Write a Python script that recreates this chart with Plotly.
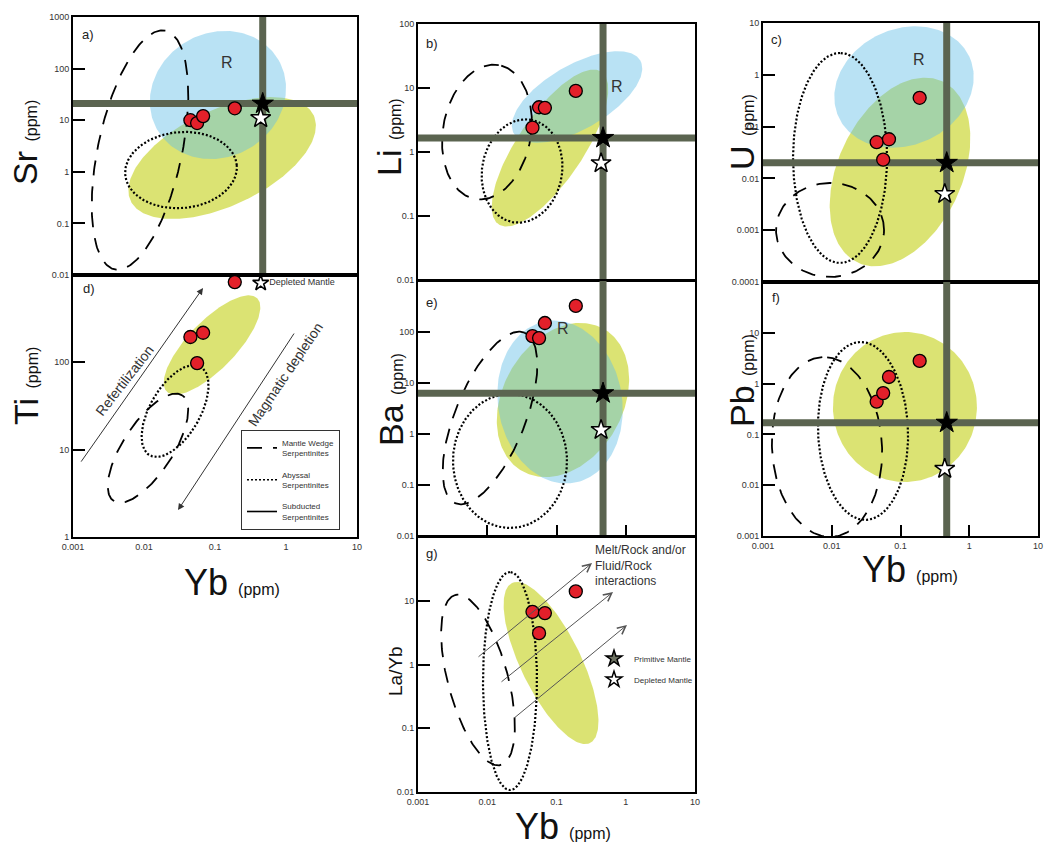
import numpy as np
import plotly.graph_objects as go

W, H = 1045, 847
FONT = "Liberation Sans"

# ---------------- data ----------------
YB = [0.045, 0.056, 0.068, 0.19]          # sample Yb (ppm)
SR = [10, 8.8, 12, 17]
TI = [195, 98, 218, 830]
LI = [2.4, 5.0, 4.9, 9.0]
BA = [83, 76, 150, 325]
LA_YB = [6.7, 3.1, 6.4, 14]
U = [0.050, 0.023, 0.057, 0.36]
PB = [0.44, 0.65, 1.35, 2.8]

PM_YB = 0.47                                # primitive mantle
PM = {"Sr": 21, "Li": 1.66, "Ba": 6.3, "U": 0.020, "Pb": 0.17}
DM_YB = 0.44                                # depleted mantle
DM = {"Sr": 11, "Li": 0.67, "Ti": 810, "Ba": 1.2, "U": 0.005, "Pb": 0.021}

X_TICKS = [0.001, 0.01, 0.1, 1, 10]
X_TEXT = ["0.001", "0.01", "0.1", "1", "10"]

# compositional fields: (kind, centre Yb, centre value, semi-axis a, semi-axis b (px), angle deg)
FIELDS = {
    "a": [("yellow", 0.126, 1.85, 101, 48, 25), ("blue", 0.110, 30.8, 70, 62, 30),
          ("dot", 0.0332, 1.08, 56, 38, 5), ("dash", 0.00879, 2.64, 122, 42, 78)],
    "d": [("yellow", 0.0908, 158, 65, 24, 46),
          ("dot", 0.0274, 27.7, 51, 25, 60), ("dash", 0.01138, 10.4, 63, 25, 57)],
    "b": [("yellow", 0.0805, 1.155, 92, 33, 56), ("blue", 0.198, 7.23, 73, 32, 30),
          ("dot", 0.0318, 0.505, 52, 40, 80), ("dash", 0.0099, 2.05, 68, 44, 80)],
    "e": [("yellow", 0.124, 4.64, 82, 60, 60), ("blue", 0.1125, 4.24, 82, 62, 100),
          ("dot", 0.0213, 0.296, 67, 57, 90), ("dash", 0.01096, 2.06, 92, 35, 68)],
    "g": [("yellow", 0.0834, 1.056, 89, 30, 116),
          ("dot", 0.0213, 0.551, 109, 27, 90), ("dash", 0.00735, 0.571, 88, 30, 105)],
    "c": [("yellow", 0.0984, 0.0133, 100, 62, 65), ("blue", 0.1125, 0.581, 72, 58, 25),
          ("dot", 0.0132, 0.0248, 105, 47, 90), ("dash", 0.00944, 0.00101, 54, 47, 0)],
    "f": [("yellow", 0.116, 0.346, 75, 72, 90),
          ("dot", 0.0285, 0.117, 89, 45, 92), ("dash", 0.00853, 0.0565, 90, 55, 93)],
}

# panel layout: id -> axis index, x px span, y px span, y log range, y tick values
PANELS = {
    "a": dict(i=1, xp=(73, 357), yp=(17, 275), yr=(-2, 3), yt=[0.01, 0.1, 1, 10, 100, 1000],
              yv=SR, el="Sr", xlab=False),
    "d": dict(i=2, xp=(73, 357), yp=(275, 537), yr=(0, 3), yt=[1, 10, 100],
              yv=TI, el="Ti", xlab=True),
    "b": dict(i=3, xp=(418, 695), yp=(24, 280), yr=(-2, 2), yt=[0.01, 0.1, 1, 10, 100],
              yv=LI, el="Li", xlab=False),
    "e": dict(i=4, xp=(418, 695), yp=(281, 536), yr=(-2, 3), yt=[0.01, 0.1, 1, 10, 100],
              yv=BA, el="Ba", xlab=False, xin=True),
    "g": dict(i=5, xp=(418, 695), yp=(537, 792), yr=(-2, 2), yt=[0.01, 0.1, 1, 10],
              yv=LA_YB, el="LaYb", xlab=True),
    "c": dict(i=6, xp=(763, 1038), yp=(23, 282), yr=(-4, 1), yt=[0.0001, 0.001, 0.01, 0.1, 1, 10],
              yv=U, el="U", xlab=False),
    "f": dict(i=7, xp=(763, 1038), yp=(282, 536), yr=(-3, 2), yt=[0.001, 0.01, 0.1, 1, 10],
              yv=PB, el="Pb", xlab=True, xin=True),
}

BLUE = "rgba(100,190,230,0.45)"
YELLOW = "rgba(200,212,40,0.65)"
OLIVE = "#5b6450"
RED = "#e3202a"


def fmt(v):
    s = ("%.4f" % v).rstrip("0").rstrip(".")
    return s


def ellipse(cx, cy, a, b, ang, pxx, pxy):
    t = np.linspace(0, 2 * np.pi, 240)
    th = np.radians(ang)
    X = a * np.cos(t) * np.cos(th) - b * np.sin(t) * np.sin(th)
    Y = a * np.cos(t) * np.sin(th) + b * np.sin(t) * np.cos(th)
    return 10 ** (np.log10(cx) + X / pxx), 10 ** (np.log10(cy) + Y / pxy)


fig = go.Figure()
layout = {}

for key, p in PANELS.items():
    i = p["i"]
    xa = "x" if i == 1 else f"x{i}"
    ya = "y" if i == 1 else f"y{i}"
    xd = [p["xp"][0] / W, p["xp"][1] / W]
    yd = [1 - p["yp"][1] / H, 1 - p["yp"][0] / H]
    pxx = (p["xp"][1] - p["xp"][0]) / 4.0
    pxy = (p["yp"][1] - p["yp"][0]) / (p["yr"][1] - p["yr"][0])

    xin = p.get("xin", False)
    layout["xaxis" if i == 1 else f"xaxis{i}"] = dict(
        domain=xd, anchor=ya, type="log", range=[-3, 1], automargin=False,
        showgrid=False, zeroline=False, showline=True, mirror=True,
        linecolor="black", linewidth=2,
        tickvals=X_TICKS, ticktext=X_TEXT, showticklabels=p["xlab"],
        ticks="inside" if xin else "", ticklen=11, tickwidth=2, tickcolor="black",
        tickfont=dict(size=9, color="#333", family=FONT),
    )
    layout["yaxis" if i == 1 else f"yaxis{i}"] = dict(
        domain=yd, anchor=xa, type="log", range=list(p["yr"]), automargin=False,
        showgrid=False, zeroline=False, showline=True, mirror=True,
        linecolor="black", linewidth=2,
        tickvals=p["yt"], ticktext=[fmt(v) for v in p["yt"]],
        ticks="inside", ticklen=12, tickwidth=2, tickcolor="black",
        tickfont=dict(size=9, color="#333", family=FONT),
    )

    # fields
    for kind, cx, cy, a, b, ang in FIELDS[key]:
        ex, ey = ellipse(cx, cy, a, b, ang, pxx, pxy)
        if kind in ("yellow", "blue"):
            fig.add_trace(go.Scatter(x=ex, y=ey, xaxis=xa, yaxis=ya, mode="lines",
                                     line=dict(width=0), fill="toself",
                                     fillcolor=YELLOW if kind == "yellow" else BLUE,
                                     hoverinfo="skip", showlegend=False))
    for kind, cx, cy, a, b, ang in FIELDS[key]:
        ex, ey = ellipse(cx, cy, a, b, ang, pxx, pxy)
        if kind == "dot":
            fig.add_trace(go.Scatter(x=ex, y=ey, xaxis=xa, yaxis=ya, mode="lines",
                                     line=dict(color="black", width=2.2, dash="2px,2px"),
                                     hoverinfo="skip", showlegend=False))
        elif kind == "dash":
            fig.add_trace(go.Scatter(x=ex, y=ey, xaxis=xa, yaxis=ya, mode="lines",
                                     line=dict(color="black", width=1.8, dash="15px,11px"),
                                     hoverinfo="skip", showlegend=False))

    # primitive mantle reference lines
    el = p["el"]
    if el in PM:
        fig.add_trace(go.Scatter(x=[PM_YB, PM_YB], y=[10 ** p["yr"][0], 10 ** p["yr"][1]],
                                 xaxis=xa, yaxis=ya, mode="lines",
                                 line=dict(color=OLIVE, width=7), hoverinfo="skip", showlegend=False))
        fig.add_trace(go.Scatter(x=[0.001, 10], y=[PM[el], PM[el]],
                                 xaxis=xa, yaxis=ya, mode="lines",
                                 line=dict(color=OLIVE, width=7), hoverinfo="skip", showlegend=False))

    # samples
    fig.add_trace(go.Scatter(x=YB, y=p["yv"], xaxis=xa, yaxis=ya, mode="markers",
                             marker=dict(size=13, color=RED, line=dict(color="black", width=1.3)),
                             showlegend=False))
    if el in PM:
        fig.add_trace(go.Scatter(x=[PM_YB], y=[PM[el]], xaxis=xa, yaxis=ya, mode="markers",
                                 marker=dict(symbol="star", size=16, color="black",
                                             line=dict(color="black", width=1)),
                                 showlegend=False))
    if el in DM:
        if el == "Ti":
            fig.add_trace(go.Scatter(x=[DM_YB], y=[DM[el]], xaxis=xa, yaxis=ya, mode="markers+text",
                                     marker=dict(symbol="star", size=12, color="white",
                                                 line=dict(color="black", width=1.6)),
                                     text=["Depleted Mantle"], textposition="middle right",
                                     textfont=dict(size=9, color="#333", family=FONT),
                                     cliponaxis=False, showlegend=False))
        else:
            fig.add_trace(go.Scatter(x=[DM_YB], y=[DM[el]], xaxis=xa, yaxis=ya, mode="markers",
                                     marker=dict(symbol="star", size=15, color="white",
                                                 line=dict(color="black", width=1.5)),
                                     showlegend=False))

# legend entries (serpentinite fields)
SERP = [("Mantle Wedge<br>Serpentinites", "15px,11px"),
        ("Abyssal<br>Serpentinites", "2px,2px"),
        ("Subducted<br>Serpentinites", "30px,4px")]
for k, (name, dash) in enumerate(SERP):
    fig.add_trace(go.Scatter(x=[None], y=[None], xaxis="x2", yaxis="y2", mode="lines",
                             name=name, legendgroup=f"s{k}",
                             line=dict(color="black", width=1.6, dash=dash),
                             legend="legend"))
fig.add_trace(go.Scatter(x=[None], y=[None], xaxis="x5", yaxis="y5", mode="markers",
                         name="Primitive Mantle", legendgroup="pm",
                         marker=dict(symbol="star", size=12, color="#6d7262",
                                     line=dict(color="black", width=1.5)), legend="legend2"))
fig.add_trace(go.Scatter(x=[None], y=[None], xaxis="x5", yaxis="y5", mode="markers",
                         name="Depleted Mantle", legendgroup="dm",
                         marker=dict(symbol="star", size=12, color="white",
                                     line=dict(color="black", width=1.5)), legend="legend2"))

ann = []
# panel letters
for txt, (px, py) in {"a)": (80, 35), "b)": (424, 43), "c)": (769, 40), "d)": (81, 288),
                      "e)": (424, 302), "f)": (770, 297), "g)": (424, 553)}.items():
    ann.append(dict(text=txt, x=px / W, y=1 - py / H, xref="paper", yref="paper",
                    xanchor="left", yanchor="middle", showarrow=False,
                    font=dict(size=13, color="#222", family=FONT)))

# R labels (log coordinates)
for xr, yr_, lx, ly in [("x", "y", -0.831, 2.109), ("x3", "y3", -0.126, 1.031),
                        ("x6", "y6", -0.731, 0.286), ("x4", "y4", -0.906, 2.059)]:
    ann.append(dict(text="R", x=lx, y=ly, xref=xr, yref=yr_, showarrow=False,
                    font=dict(size=16, color="#333", family=FONT)))

# axis titles
def ytitle(txt, small, px, py, big=34):
    return dict(text=f"{txt} <span style='font-size:16px'>{small}</span>", x=px / W, y=1 - py / H,
                xref="paper", yref="paper", textangle=-90, showarrow=False,
                xanchor="center", yanchor="middle", font=dict(size=big, color="#111", family=FONT))

ann += [ytitle("Sr", "(ppm)", 25, 143), ytitle("Ti", "(ppm)", 26, 386),
        ytitle("Li", "(ppm)", 389, 137), ytitle("Ba", "(ppm)", 391, 400),
        ytitle("U", "(ppm)", 742, 132), ytitle("Pb", "(ppm)", 742, 381)]
ann.append(dict(text="La/Yb", x=395 / W, y=1 - 698 / H, xref="paper", yref="paper", textangle=-90,
                showarrow=False, font=dict(size=19, color="#111", family=FONT)))
for px, py in [(232, 582), (563, 826), (910, 569)]:
    ann.append(dict(text="Yb <span style='font-size:16px'>(ppm)</span>", x=px / W, y=1 - py / H,
                    xref="paper", yref="paper", showarrow=False, xanchor="center", yanchor="middle",
                    font=dict(size=36, color="#111", family=FONT)))

# trend arrows in d (log coordinates: head x,y ; tail ax,ay)
for hx, hy, tx, ty in [(-1.169, 2.851, -2.90, 0.846), (-1.521, 0.308, 0.127, 2.347)]:
    ann.append(dict(x=hx, y=hy, ax=tx, ay=ty, xref="x2", yref="y2", axref="x2", ayref="y2",
                    text="", showarrow=True, arrowhead=2, arrowsize=1.3, arrowwidth=1,
                    arrowcolor="#333"))
ann.append(dict(text="Refertilization", x=-2.268, y=1.797, xref="x2", yref="y2", textangle=-52,
                showarrow=False, font=dict(size=14, color="#333", family=FONT)))
ann.append(dict(text="Magmatic depletion", x=-0.014, y=1.855, xref="x2", yref="y2", textangle=-56,
                showarrow=False, font=dict(size=14, color="#333", family=FONT)))

# interaction arrows in g
for hx, hy, tx, ty in [(-0.487, 1.592, -2.148, 0.102), (-0.184, 1.137, -1.816, -0.290),
                       (0.018, 0.620, -1.628, -0.855)]:
    ann.append(dict(x=hx, y=hy, ax=tx, ay=ty, xref="x5", yref="y5", axref="x5", ayref="y5",
                    text="", showarrow=True, arrowhead=5, arrowsize=1.6, arrowwidth=1,
                    arrowcolor="#555"))
ann.append(dict(text="Melt/Rock and/or<br>Fluid/Rock<br>interactions", x=593 / W, y=1 - 541 / H,
                xref="paper", yref="paper", xanchor="left", yanchor="top", align="left",
                showarrow=False, font=dict(size=12, color="#333", family=FONT)))

fig.update_layout(
    width=W, height=H, margin=dict(l=0, r=0, t=0, b=0, pad=0, autoexpand=False),
    paper_bgcolor="white", plot_bgcolor="white",
    font=dict(family=FONT, color="#222"),
    annotations=ann,
    legend=dict(x=241 / W, y=1 - 430 / H, xanchor="left", yanchor="top",
                bgcolor="white", bordercolor="#333", borderwidth=1,
                font=dict(size=8, color="#333", family=FONT), tracegroupgap=8, itemwidth=30),
    legend2=dict(x=594 / W, y=1 - 644 / H, xanchor="left", yanchor="top",
                 bgcolor="rgba(0,0,0,0)", font=dict(size=8, color="#333", family=FONT),
                 tracegroupgap=2, itemwidth=30),
    **layout,
)

fig.write_html("out.html", config={"displayModeBar": False},
               post_script="document.body.style.margin='0';document.body.style.padding='0';")
